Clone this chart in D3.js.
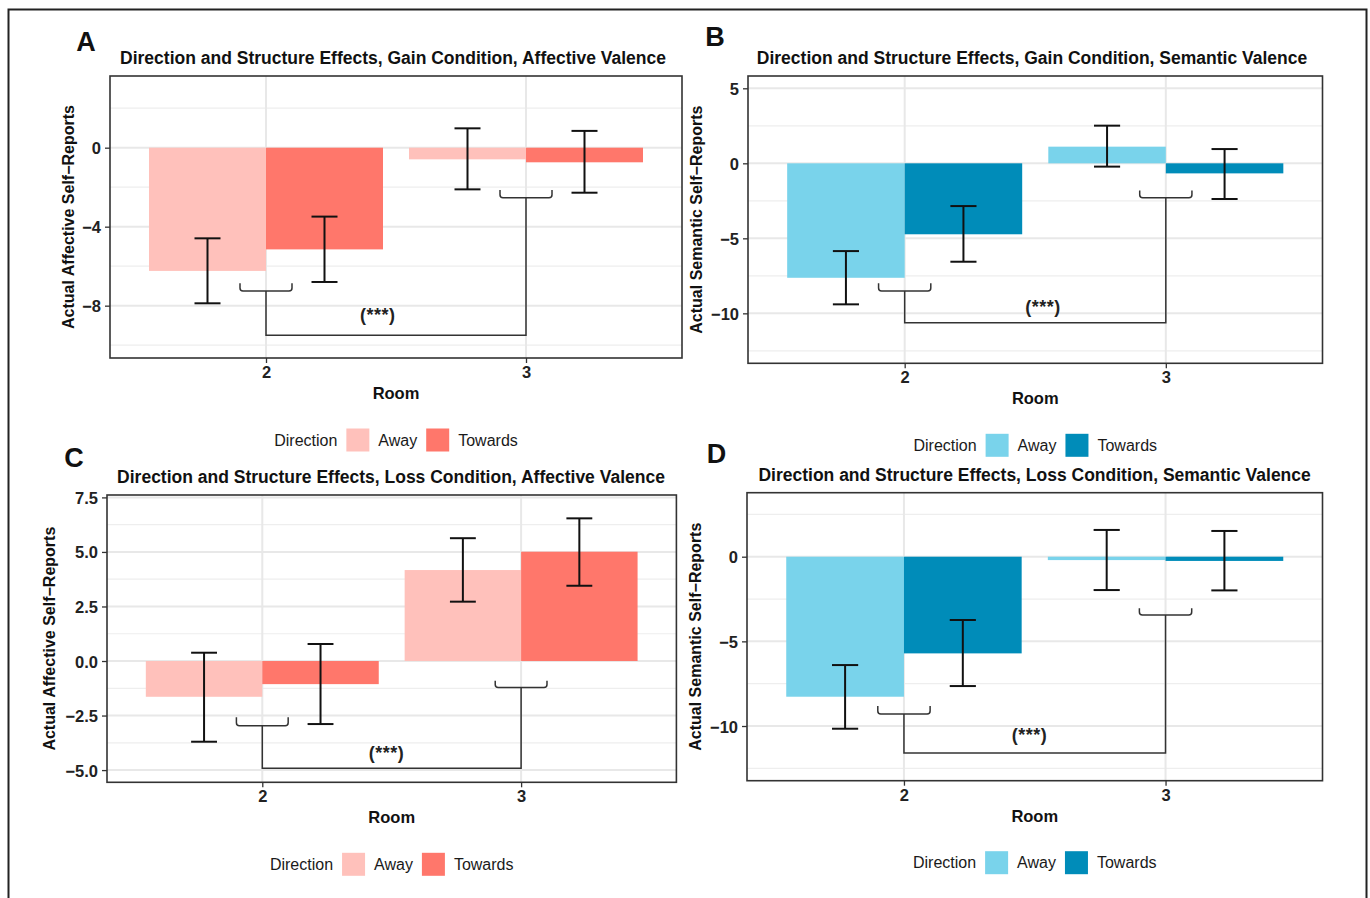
<!DOCTYPE html>
<html>
<head>
<meta charset="utf-8">
<script src="https://cdn.jsdelivr.net/npm/d3@7"></script>
<style>
  body { margin: 0; background: #fff; }
  text { font-family: "Liberation Sans", Arial, sans-serif; }
</style>
</head>
<body>
<script>
// ---- data (order: room 2 Away, room 2 Towards, room 3 Away, room 3 Towards)
var rooms = [2, 3];
var directions = ["Away", "Towards"];

var gainAffMean = [-6.24, -5.15, -0.59, -0.74];
var gainAffLow  = [-7.88, -6.80, -2.11, -2.28];
var gainAffHigh = [-4.59, -3.49, 0.98, 0.85];

var gainSemMean = [-7.63, -4.73, 1.11, -0.67];
var gainSemLow  = [-9.40, -6.56, -0.22, -2.38];
var gainSemHigh = [-5.85, -2.85, 2.51, 0.95];

var lossAffMean = [-1.64, -1.06, 4.17, 5.01];
var lossAffLow  = [-3.70, -2.89, 2.72, 3.45];
var lossAffHigh = [0.38, 0.78, 5.63, 6.54];

var lossSemMean = [-8.27, -5.71, -0.20, -0.25];
var lossSemLow  = [-10.16, -7.64, -1.97, -1.99];
var lossSemHigh = [-6.40, -3.74, 1.58, 1.52];

// y ticks and limits
var gainAffTicks = [-8, -4, 0];
var gainSemTicks = [-10, -5, 0, 5];
var lossAffTicks = [-5, -2.5, 0, 2.5, 5, 7.5];
var lossSemTicks = [-10, -5, 0];

var gainAffLimits = [-10.65, 3.63];
var gainSemLimits = [-13.33, 5.82];
var lossAffLimits = [-5.56, 7.61];
var lossSemLimits = [-13.23, 3.78];

// significance brackets: [room2 ends, room2 middle, joining line, room3 ends, room3 middle]
var gainAffBracket = [-6.87, -7.26, -9.5, -2.14, -2.53];
var gainSemBracket = [-8.0, -8.51, -10.62, -1.82, -2.29];
var lossAffBracket = [-2.58, -2.97, -4.92, -0.9, -1.22];
var lossSemBracket = [-8.82, -9.29, -11.6, -3.05, -3.44];

// "(***)" label position [room, value]
var gainAffStar = [2.43, -8.48];
var gainSemStar = [2.53, -9.6];
var lossAffStar = [2.48, -4.23];
var lossSemStar = [2.48, -10.56];

var redColors = ["#FFC1BB", "#FF776B"];
var blueColors = ["#79D3EB", "#008CB9"];

var titles = [
  "Direction and Structure Effects, Gain Condition, Affective Valence",
  "Direction and Structure Effects, Gain Condition, Semantic Valence",
  "Direction and Structure Effects, Loss Condition, Affective Valence",
  "Direction and Structure Effects, Loss Condition, Semantic Valence"
];
var yLabels = ["Actual Affective Self\u2212Reports", "Actual Semantic Self\u2212Reports"];

var svg = d3.select("body")
    .append("svg")
    .attr("width", 1370)
    .attr("height", 898)
    .style("display", "block");

// outer frame (bottom edge runs off the picture)
svg.append("rect")
    .attr("x", 8.5).attr("y", 9.5)
    .attr("width", 1358).attr("height", 920)
    .attr("fill", "none")
    .attr("stroke", "#222")
    .attr("stroke-width", 2);

var panels = [
  {letter: "A", mean: gainAffMean, low: gainAffLow, high: gainAffHigh, ticks: gainAffTicks,
   limits: gainAffLimits, bracket: gainAffBracket, star: gainAffStar, colors: redColors,
   title: titles[0], ylab: yLabels[0], fmt: d3.format("d"),
   left: 110, right: 682, top: 76, bottom: 358, letterPos: [86, 42], titleX: 393, ylabX: 68},
  {letter: "B", mean: gainSemMean, low: gainSemLow, high: gainSemHigh, ticks: gainSemTicks,
   limits: gainSemLimits, bracket: gainSemBracket, star: gainSemStar, colors: blueColors,
   title: titles[1], ylab: yLabels[1], fmt: d3.format("d"),
   left: 748, right: 1322.5, top: 76, bottom: 363.3, letterPos: [715, 37], titleX: 1032, ylabX: 696.7},
  {letter: "C", mean: lossAffMean, low: lossAffLow, high: lossAffHigh, ticks: lossAffTicks,
   limits: lossAffLimits, bracket: lossAffBracket, star: lossAffStar, colors: redColors,
   title: titles[2], ylab: yLabels[0], fmt: d3.format(".1f"),
   left: 107, right: 676.4, top: 495, bottom: 782.3, letterPos: [74, 458], titleX: 391, ylabX: 49.3},
  {letter: "D", mean: lossSemMean, low: lossSemLow, high: lossSemHigh, ticks: lossSemTicks,
   limits: lossSemLimits, bracket: lossSemBracket, star: lossSemStar, colors: blueColors,
   title: titles[3], ylab: yLabels[1], fmt: d3.format("d"),
   left: 747, right: 1322.5, top: 492.7, bottom: 780.7, letterPos: [716.5, 454], titleX: 1034.6, ylabX: 695.4}
];

panels.forEach(drawPanel);

function drawPanel(p) {
  var x = d3.scaleLinear().domain([1.4, 3.6]).range([p.left, p.right]);
  var y = d3.scaleLinear().domain(p.limits).range([p.bottom, p.top]);
  var g = svg.append("g");

  // minor grid halfway between ticks
  var step = p.ticks[1] - p.ticks[0];
  var minor = [];
  for (var v = p.ticks[0] - step / 2; v <= p.limits[1]; v += step) {
    if (v >= p.limits[0]) minor.push(v);
  }
  g.selectAll(".minor").data(minor).enter().append("line")
      .attr("x1", p.left).attr("x2", p.right)
      .attr("y1", function(d) { return y(d); })
      .attr("y2", function(d) { return y(d); })
      .attr("stroke", "#EEEEEE").attr("stroke-width", 1.2);
  g.selectAll(".major").data(p.ticks).enter().append("line")
      .attr("x1", p.left).attr("x2", p.right)
      .attr("y1", function(d) { return y(d); })
      .attr("y2", function(d) { return y(d); })
      .attr("stroke", "#E8E8E8").attr("stroke-width", 2);
  g.selectAll(".vmajor").data(rooms).enter().append("line")
      .attr("x1", function(d) { return x(d); })
      .attr("x2", function(d) { return x(d); })
      .attr("y1", p.top).attr("y2", p.bottom)
      .attr("stroke", "#E8E8E8").attr("stroke-width", 2);

  var rows = [];
  rooms.forEach(function(r, ri) {
    directions.forEach(function(dname, di) {
      var k = ri * 2 + di;
      rows.push({room: r, dir: di, mean: p.mean[k], low: p.low[k], high: p.high[k]});
    });
  });

  var bw = 0.45;
  g.selectAll(".bar").data(rows).enter().append("rect")
      .attr("x", function(d) { return x(d.room - bw + d.dir * bw); })
      .attr("width", x(bw) - x(0))
      .attr("y", function(d) { return y(Math.max(0, d.mean)); })
      .attr("height", function(d) { return Math.abs(y(d.mean) - y(0)); })
      .attr("fill", function(d) { return p.colors[d.dir]; });

  // error bars
  var cap = 0.05;
  var eb = g.selectAll(".eb").data(rows).enter().append("g")
      .attr("stroke", "#111").attr("stroke-width", 2);
  eb.append("line")
      .attr("x1", function(d) { return x(d.room - bw / 2 + d.dir * bw); })
      .attr("x2", function(d) { return x(d.room - bw / 2 + d.dir * bw); })
      .attr("y1", function(d) { return y(d.low); })
      .attr("y2", function(d) { return y(d.high); });
  [ "low", "high" ].forEach(function(key) {
    eb.append("line")
        .attr("x1", function(d) { return x(d.room - bw / 2 + d.dir * bw - cap); })
        .attr("x2", function(d) { return x(d.room - bw / 2 + d.dir * bw + cap); })
        .attr("y1", function(d) { return y(d[key]); })
        .attr("y2", function(d) { return y(d[key]); });
  });

  // brackets
  var b = p.bracket;
  function brace(r, yEnd, yMid) {
    var x0 = x(r - 0.1), x1 = x(r + 0.1), ye = y(yEnd), ym = y(yMid), rr = 3;
    return "M" + x0 + "," + ye + "L" + x0 + "," + (ym - rr) +
      "Q" + x0 + "," + ym + " " + (x0 + rr) + "," + ym +
      "L" + (x1 - rr) + "," + ym +
      "Q" + x1 + "," + ym + " " + x1 + "," + (ym - rr) +
      "L" + x1 + "," + ye;
  }
  var bg = g.append("g").attr("fill", "none").attr("stroke", "#333").attr("stroke-width", 1.5);
  bg.append("path").attr("d", brace(rooms[0], b[0], b[1]));
  bg.append("path").attr("d", brace(rooms[1], b[3], b[4]));
  bg.append("path").attr("d",
      "M" + x(rooms[0]) + "," + y(b[1]) + "L" + x(rooms[0]) + "," + y(b[2]) +
      "L" + x(rooms[1]) + "," + y(b[2]) + "L" + x(rooms[1]) + "," + y(b[4]));

  g.append("text")
      .attr("x", x(p.star[0])).attr("y", y(p.star[1]))
      .attr("text-anchor", "middle").attr("dominant-baseline", "central")
      .style("font-size", "18px").style("font-weight", "bold").style("letter-spacing", "0.5px")
      .attr("fill", "#222")
      .text("(***)");

  // panel border
  g.append("rect")
      .attr("x", p.left).attr("y", p.top)
      .attr("width", p.right - p.left).attr("height", p.bottom - p.top)
      .attr("fill", "none").attr("stroke", "#333").attr("stroke-width", 1.6);

  // axes
  var yAxis = d3.axisLeft(y).tickValues(p.ticks).tickSize(5).tickPadding(4).tickFormat(p.fmt);
  var ya = g.append("g").attr("transform", "translate(" + p.left + ",0)").call(yAxis);
  ya.select(".domain").remove();
  ya.selectAll("line").attr("stroke", "#333").attr("stroke-width", 1.3);
  ya.selectAll("text").attr("fill", "#222").attr("dy", null)
      .attr("dominant-baseline", "central")
      .style("font-size", "16.5px").style("font-weight", "bold")
      .style("font-family", "'Liberation Sans', Arial, sans-serif");

  var xAxis = d3.axisBottom(x).tickValues(rooms).tickSize(5).tickPadding(3).tickFormat(d3.format("d"));
  var xa = g.append("g").attr("transform", "translate(0," + p.bottom + ")").call(xAxis);
  xa.select(".domain").remove();
  xa.selectAll("line").attr("stroke", "#333").attr("stroke-width", 1.3);
  xa.selectAll("text").attr("fill", "#222").attr("y", 14).attr("dy", null)
      .attr("dominant-baseline", "central")
      .style("font-size", "16.5px").style("font-weight", "bold")
      .style("font-family", "'Liberation Sans', Arial, sans-serif");

  // labels
  g.append("text")
      .attr("x", p.letterPos[0]).attr("y", p.letterPos[1])
      .attr("text-anchor", "middle").attr("dominant-baseline", "central")
      .style("font-size", "27px").style("font-weight", "bold").attr("fill", "#111")
      .text(p.letter);
  g.append("text")
      .attr("x", p.titleX).attr("y", p.top - 18)
      .attr("text-anchor", "middle").attr("dominant-baseline", "central")
      .style("font-size", "17.5px").style("font-weight", "bold").attr("fill", "#111")
      .text(p.title);
  g.append("text")
      .attr("transform", "translate(" + p.ylabX + "," + (p.top + p.bottom) / 2 + ") rotate(-90)")
      .attr("text-anchor", "middle").attr("dominant-baseline", "central")
      .style("font-size", "16px").style("font-weight", "bold").attr("fill", "#111")
      .text(p.ylab);
  g.append("text")
      .attr("x", (p.left + p.right) / 2).attr("y", p.bottom + 35)
      .attr("text-anchor", "middle").attr("dominant-baseline", "central")
      .style("font-size", "16.5px").style("font-weight", "bold").attr("fill", "#111")
      .text("Room");

  // legend
  var lg = g.append("g");
  var ly = p.bottom + 82;
  var cx = 0;
  var t0 = lg.append("text").attr("x", cx).attr("y", ly).attr("dominant-baseline", "central")
      .style("font-size", "16px").attr("fill", "#1a1a1a").text("Direction");
  cx += t0.node().getComputedTextLength() + 9;
  directions.forEach(function(dname, di) {
    lg.append("rect").attr("x", cx).attr("y", ly - 11.5).attr("width", 23).attr("height", 23)
        .attr("fill", p.colors[di]);
    cx += 23 + 9;
    var t = lg.append("text").attr("x", cx).attr("y", ly).attr("dominant-baseline", "central")
        .style("font-size", "16px").attr("fill", "#1a1a1a").text(dname);
    cx += t.node().getComputedTextLength() + 9;
  });
  cx -= 9;
  lg.attr("transform", "translate(" + ((p.left + p.right) / 2 - cx / 2) + ",0)");
}
</script>
</body>
</html>
